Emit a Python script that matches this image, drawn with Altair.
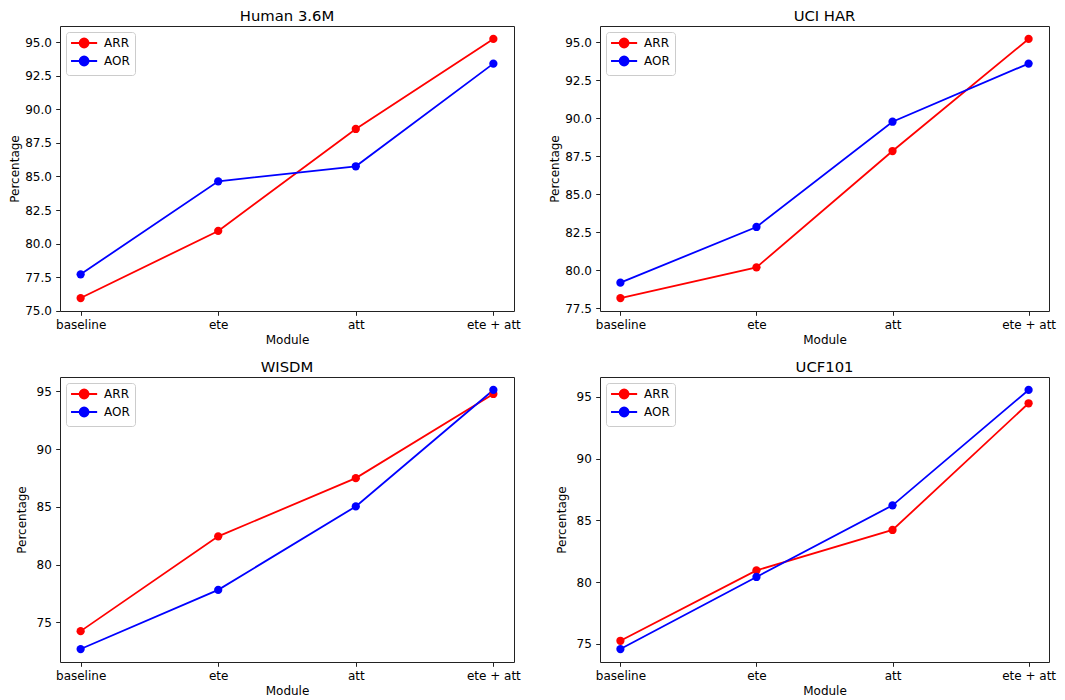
import altair as alt
import pandas as pd

# ---- data ----
modules = ["baseline", "ete", "att", "ete + att"]
series_names = ["ARR", "AOR"]
series_colors = ["#ff0000", "#0000ff"]

titles = ["Human 3.6M", "UCI HAR", "WISDM", "UCF101"]

h36m_arr = [75.94, 80.94, 88.54, 95.25]
h36m_aor = [77.71, 84.64, 85.76, 93.41]
ucihar_arr = [78.16, 80.18, 87.84, 95.22]
ucihar_aor = [79.17, 82.84, 89.77, 93.60]
wisdm_arr = [74.25, 82.45, 87.49, 94.77]
wisdm_aor = [72.70, 77.82, 85.04, 95.12]
ucf_arr = [75.24, 80.95, 84.22, 94.49]
ucf_aor = [74.57, 80.41, 86.22, 95.57]

h36m_ticks = [75.0, 77.5, 80.0, 82.5, 85.0, 87.5, 90.0, 92.5, 95.0]
ucihar_ticks = [77.5, 80.0, 82.5, 85.0, 87.5, 90.0, 92.5, 95.0]
wisdm_ticks = [75, 80, 85, 90, 95]
ucf_ticks = [75, 80, 85, 90, 95]

FONT = "DejaVu Sans"
FS = 12

# legend symbol: short line with a filled circle in the middle
LEGEND_PATH = ("M-2.9,0L2.9,0M-1.0,0A1.0,1.0,0,1,1,1.0,0"
               "A1.0,1.0,0,1,1,-1.0,0Z")


def panel(title, arr, aor, ticks, fmt, width, height, ytitle_pad):
    df = pd.DataFrame({
        "Module": modules + modules,
        "Series": [series_names[0]] * len(arr) + [series_names[1]] * len(aor),
        "Percentage": arr + aor,
    })
    vals = arr + aor
    lo, hi = min(vals), max(vals)
    m = 0.05 * (hi - lo)
    x = alt.X("Module:N", sort=modules,
              scale=alt.Scale(type="point", padding=0.15),
              axis=alt.Axis(title="Module", labelAngle=0))
    y = alt.Y("Percentage:Q",
              scale=alt.Scale(domain=[lo - m, hi + m], nice=False, zero=False),
              axis=alt.Axis(title="Percentage", values=ticks, format=fmt,
                            titlePadding=ytitle_pad))
    leg = alt.Legend(
        title=None, orient="top-left", offset=6, padding=5,
        symbolType=LEGEND_PATH, symbolSize=81, symbolStrokeWidth=1.8,
        symbolOffset=7.1, labelOffset=14, rowPadding=0,
        labelFont=FONT, labelFontSize=FS, labelColor="#000000",
        strokeColor="#cccccc", fillColor="rgba(255,255,255,0.8)",
        cornerRadius=3,
    )
    cscale = alt.Scale(domain=series_names, range=series_colors)
    base = alt.Chart(df)
    line = base.mark_line(strokeWidth=1.8).encode(
        x=x, y=y,
        stroke=alt.Stroke("Series:N", scale=cscale, legend=leg),
    )
    pts = base.mark_circle(size=68, opacity=1).encode(
        x=x, y=y,
        fill=alt.Fill("Series:N", scale=cscale, legend=leg),
    )
    return alt.layer(line, pts).properties(
        width=width, height=height,
        title=alt.TitleParams(title, fontSize=14.8, font=FONT,
                              fontWeight="normal", color="#000000", offset=2),
    )


p1 = panel(titles[0], h36m_arr, h36m_aor, h36m_ticks, ".1f", 454, 285, 3)
p2 = panel(titles[1], ucihar_arr, ucihar_aor, ucihar_ticks, ".1f", 449, 285, 3)
p3 = panel(titles[2], wisdm_arr, wisdm_aor, wisdm_ticks, "d", 454, 285, 7.5)
p4 = panel(titles[3], ucf_arr, ucf_aor, ucf_ticks, "d", 449, 285, 7.5)

chart = (
    alt.concat(p1, p2, p3, p4, columns=2, spacing={"row": 12, "column": 27})
    .resolve_scale(stroke="independent", fill="independent")
    .resolve_legend(stroke="independent", fill="independent")
    .properties(padding=0)
    .configure(font=FONT)
    .configure_view(stroke="#222222", strokeWidth=1)
    .configure_axis(
        domain=False, grid=False,
        tickColor="#222222", tickSize=4.3, tickWidth=1,
        labelFont=FONT, labelFontSize=FS, labelColor="#000000", labelPadding=4.3,
        titleFont=FONT, titleFontSize=FS, titleFontWeight="normal",
        titleColor="#000000", labelOverlap=False,
    )
    .configure_axisX(titlePadding=4)
)

chart.save("out.html", embed_options={"renderer": "svg", "actions": False})
